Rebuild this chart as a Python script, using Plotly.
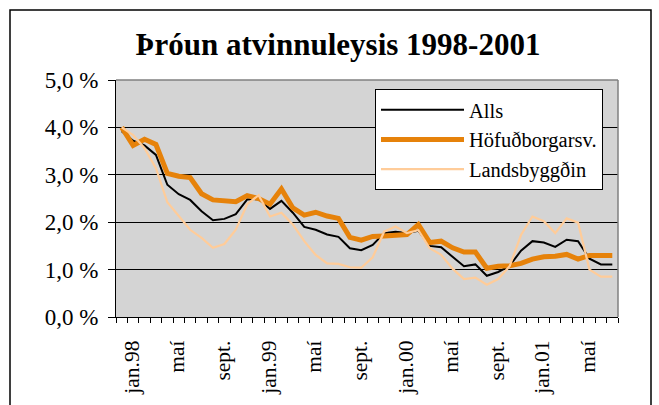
import plotly.graph_objects as go

# ---- data ----
months = ["jan.98", "feb.98", "mar.98", "apr.98", "maí.98", "jún.98", "júl.98", "ágú.98",
          "sept.98", "okt.98", "nóv.98", "des.98",
          "jan.99", "feb.99", "mar.99", "apr.99", "maí.99", "jún.99", "júl.99", "ágú.99",
          "sept.99", "okt.99", "nóv.99", "des.99",
          "jan.00", "feb.00", "mar.00", "apr.00", "maí.00", "jún.00", "júl.00", "ágú.00",
          "sept.00", "okt.00", "nóv.00", "des.00",
          "jan.01", "feb.01", "mar.01", "apr.01", "maí.01", "jún.01", "júl.01", "ágú.01"]

alls = [3.92, 3.72, 3.62, 3.42, 2.79, 2.59, 2.47, 2.23, 2.04, 2.07, 2.17, 2.48,
        2.49, 2.28, 2.45, 2.20, 1.90, 1.84, 1.74, 1.69, 1.45, 1.41, 1.52, 1.77,
        1.80, 1.77, 1.82, 1.50, 1.47, 1.28, 1.07, 1.11, 0.87, 0.95, 1.08, 1.40,
        1.60, 1.57, 1.48, 1.63, 1.60, 1.23, 1.11, 1.11]

hofud = [4.00, 3.62, 3.75, 3.64, 3.03, 2.97, 2.94, 2.60, 2.47, 2.45, 2.43, 2.56,
         2.50, 2.38, 2.70, 2.30, 2.15, 2.21, 2.13, 2.08, 1.68, 1.62, 1.70, 1.71,
         1.73, 1.74, 1.95, 1.57, 1.60, 1.46, 1.37, 1.37, 1.03, 1.07, 1.08, 1.13,
         1.22, 1.27, 1.28, 1.32, 1.22, 1.30, 1.30, 1.30]

lands = [4.00, 3.84, 3.56, 3.14, 2.42, 2.12, 1.84, 1.67, 1.46, 1.54, 1.84, 2.38,
         2.57, 2.12, 2.20, 1.95, 1.60, 1.31, 1.13, 1.12, 1.05, 1.04, 1.26, 1.80,
         1.91, 1.77, 1.83, 1.45, 1.31, 1.02, 0.80, 0.83, 0.68, 0.80, 1.07, 1.73,
         2.12, 2.02, 1.77, 2.08, 1.99, 1.00, 0.85, 0.85]

tick_labels = ["jan.98", "maí", "sept.", "jan.99", "maí", "sept.",
               "jan.00", "maí", "sept.", "jan.01", "maí"]
series_names = ["Alls", "Höfuðborgarsv.", "Landsbyggðin"]
title_text = "Þróun atvinnuleysis 1998-2001"

# ---- figure ----
x = list(range(len(months)))
tick_idx = [months.index(m) for m in months if m.startswith(("jan", "maí", "sept"))]

FONT = "'Liberation Serif', Tinos, 'Times New Roman', Times, serif"
W, H = 659, 405
L, R, T, B = 116, 41, 80, 88
pw, ph = W - L - R, H - T - B

fig = go.Figure()
fig.add_trace(go.Scatter(x=x, y=alls, name=series_names[0], mode="lines",
                         line=dict(color="#000000", width=2)))
fig.add_trace(go.Scatter(x=x, y=hofud, name=series_names[1], mode="lines",
                         line=dict(color="#E6820A", width=5)))
fig.add_trace(go.Scatter(x=x, y=lands, name=series_names[2], mode="lines",
                         line=dict(color="#FFCC99", width=2.2)))


def px_x(p):
    return (p - L) / pw


def px_y(p):
    return (H - B - p) / ph


fig.update_layout(
    width=W, height=H, autosize=False,
    margin=dict(l=L, r=R, t=T, b=B, pad=0, autoexpand=False),
    paper_bgcolor="white", plot_bgcolor="#D4D4D4",
    separators=", ",
    font=dict(family=FONT, color="black", size=21),
    title=dict(text="<b>" + title_text + "</b>", x=338 / W, xanchor="center",
               y=1 - 44 / H, yanchor="middle", yref="container",
               font=dict(family=FONT, size=31, color="black")),
    showlegend=True,
    legend=dict(x=px_x(375), y=px_y(89), xanchor="left", yanchor="top",
                bgcolor="white", bordercolor="black", borderwidth=1,
                font=dict(family=FONT, size=20.5, color="black"),
                itemwidth=83, tracegroupgap=0),
    xaxis=dict(range=[-0.5, len(months) - 0.5], tickmode="array",
               tickvals=tick_idx, ticktext=tick_labels, tickangle=-90,
               ticks="", showgrid=False, zeroline=False, automargin=False,
               showline=True, linecolor="black", linewidth=1,
               ticklabelshift=10, ticklabelstandoff=14,
               tickfont=dict(family=FONT, size=21.5, color="black"),
               minor=dict(ticks="outside", ticklen=5, tickcolor="black",
                          tick0=-0.5, dtick=1, showgrid=False)),
    yaxis=dict(range=[0, 5], tickmode="linear", tick0=0, dtick=1,
               tickformat=".1f", ticksuffix=" %", automargin=False,
               ticks="outside", ticklen=7, tickcolor="black",
               showgrid=True, gridcolor="black", gridwidth=1,
               zeroline=False, showline=True, linecolor="black", linewidth=1,
               ticklabelstandoff=5,
               tickfont=dict(family=FONT, size=23, color="black")),
    shapes=[
        # plot area top / right border
        dict(type="line", xref="paper", yref="paper", x0=0, x1=1, y0=1, y1=1,
             line=dict(color="#808080", width=1.5), layer="above"),
        dict(type="line", xref="paper", yref="paper", x0=1, x1=1, y0=0, y1=1,
             line=dict(color="#808080", width=1.5), layer="above"),
        # outer chart frame
        dict(type="rect", xref="paper", yref="paper",
             x0=px_x(10), x1=px_x(651), y0=px_y(420), y1=px_y(10),
             line=dict(color="black", width=1.5), fillcolor="rgba(0,0,0,0)",
             layer="above"),
    ],
)

fig.write_html("out.html", config={"displayModeBar": False},
               post_script="document.body.style.margin='0';")
